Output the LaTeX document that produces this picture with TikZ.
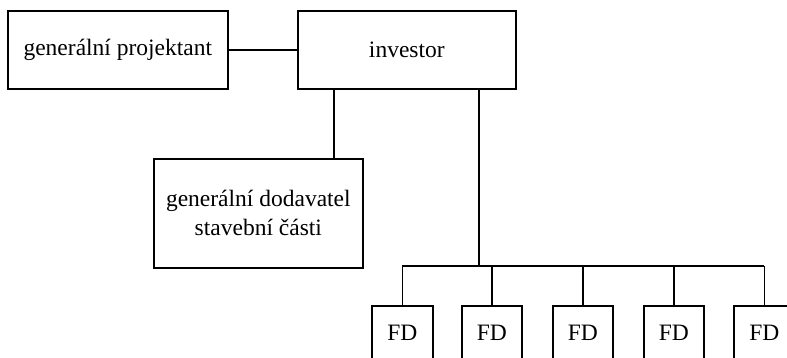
\documentclass[tikz,border=0pt]{standalone}
\usepackage{fontspec}
\setmainfont{Liberation Serif}
\begin{document}
\begin{tikzpicture}[x=1pt,y=-1pt,
  box/.style={draw,line width=1.7pt,inner sep=0pt,anchor=north west,
    font=\fontsize{23.5}{29}\selectfont,align=center},
  link/.style={line width=1.7pt}]
\useasboundingbox (0,0) rectangle (787,357);
\clip (0,0) rectangle (787,357);
% top row
\node[box,minimum width=220pt,minimum height=78pt] (gp) at (7,10) {generální projektant};
\node[box,minimum width=218pt,minimum height=78pt] (inv) at (297,10) {investor};
% general contractor
\node[box,minimum width=209pt,minimum height=109pt] (gd) at (153,158)
  {generální dodavatel\\stavební části};
% specialist suppliers
\foreach \i/\x/\w in {1/371/61,2/461/60,3/552/60,4/643/60,5/733/61}{
  \node[box,minimum width=\w pt,minimum height=54pt] (fd\i) at (\x,305) {FD};
}
% connectors
\coordinate (invL) at (334,88);
\coordinate (invR) at (479,88);
\coordinate (bus) at (479,266);
\draw[link] (gp.east) -- (inv.west);
\draw[link] (invL) -- (invL |- gd.north);
\draw[link] (invR) -- (bus);
\draw[link] (bus -| fd1.north) -- (bus -| fd5.north);
\foreach \i in {1,...,5}{
  \draw[link] (bus -| fd\i.north) -- (fd\i.north);
}
\end{tikzpicture}
\end{document}
